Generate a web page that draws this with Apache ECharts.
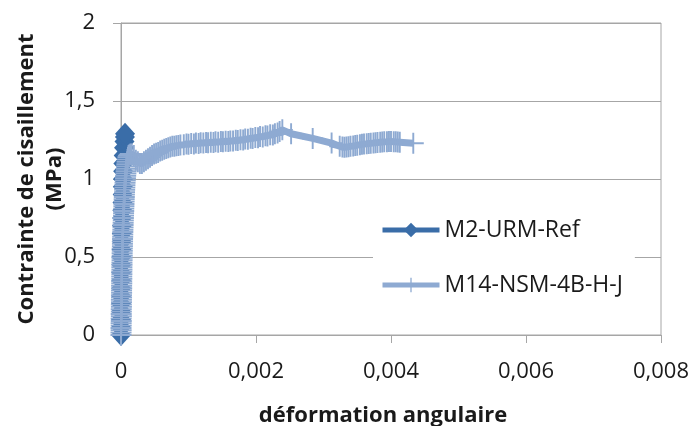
<!DOCTYPE html>
<html>
<head>
<meta charset="utf-8">
<script src="https://cdn.jsdelivr.net/npm/echarts@6/dist/echarts.min.js"></script>
<style>html,body{margin:0;padding:0;background:#fff;}#c{width:693px;height:426px;}</style>
</head>
<body>
<div id="c"></div>
<script>
var seriesNames = ['M2-URM-Ref', 'M14-NSM-4B-H-J'];
var xTitle = 'déformation angulaire';
var yTitle = 'Contrainte de cisaillement\n(MPa)';
var xTicks = [0, 0.002, 0.004, 0.006, 0.008];
var yTicks = [0, 0.5, 1, 1.5, 2];

var m2Data = [
  [0,0],[0,0.05],[0,0.1],[0.000002,0.15],[0,0.2],[0.000002,0.25],[0.000003,0.3],[0.000004,0.35],
  [0.000003,0.4],[0.000005,0.45],[0.000005,0.5],[0.000007,0.55],[0.00001,0.6],[0.000011,0.65],
  [0.000014,0.7],[0.000016,0.75],[0.00002,0.8],[0.000022,0.85],[0.000025,0.9],[0.000027,0.95],
  [0.00003,1.0],[0.000032,1.05],[0.000035,1.1],[0.00004,1.15],[0.000045,1.2],[0.000052,1.24],
  [0.000058,1.27],[0.00006,1.29]
];

var m14Data = [
  [0,0],[0,0.015],[0.000002,0.03],[0,0.045],[0.000003,0.06],[0.000002,0.075],[0.000004,0.09],[0.000002,0.105],
  [0.000005,0.12],[0.000003,0.135],[0.000005,0.15],[0.000004,0.165],[0.000006,0.18],[0.000005,0.195],
  [0.000007,0.21],[0.000006,0.225],[0.000008,0.24],[0.000007,0.255],[0.000009,0.27],[0.000008,0.285],
  [0.00001,0.3],[0.000009,0.315],[0.000011,0.33],[0.00001,0.345],[0.000012,0.36],[0.000011,0.375],
  [0.000013,0.39],[0.000012,0.405],[0.000014,0.42],[0.000013,0.435],[0.000015,0.45],[0.000014,0.465],
  [0.000016,0.48],[0.000016,0.495],[0.000018,0.51],[0.000017,0.525],[0.000019,0.54],[0.000019,0.555],
  [0.000021,0.57],[0.000021,0.585],[0.000023,0.6],[0.000023,0.615],[0.000025,0.63],[0.000026,0.645],
  [0.000027,0.66],[0.000028,0.675],[0.00003,0.69],[0.000031,0.705],[0.000032,0.72],[0.000034,0.735],
  [0.000035,0.75],[0.000037,0.765],[0.000038,0.78],[0.00004,0.795],[0.000041,0.81],[0.000043,0.825],
  [0.000044,0.84],[0.000046,0.855],[0.000047,0.87],[0.000049,0.885],[0.00005,0.9],[0.000052,0.915],
  [0.000054,0.93],[0.000056,0.945],[0.000058,0.96],[0.00006,0.975],[0.000063,0.99],[0.000066,1.005],
  [0.000069,1.02],[0.000072,1.035],[0.000075,1.05],[0.000078,1.065],[0.000082,1.08],[0.000086,1.095],
  [0.00009,1.11],[0.000096,1.125],[0.000103,1.14],[0.000112,1.15],[0.000125,1.155],[0.00014,1.16],
  [0.00016,1.16],
  [0.00019,1.15],[0.00022,1.12],[0.00025,1.11],[0.00028,1.10],[0.00031,1.10],[0.00034,1.11],
  [0.00037,1.12],[0.0004,1.13],[0.00043,1.14],[0.00046,1.15],[0.00049,1.16],[0.00052,1.165],
  [0.00055,1.17],[0.00058,1.18],[0.00061,1.185],[0.00064,1.19],[0.00067,1.195],[0.0007,1.2],
  [0.00073,1.205],[0.00076,1.21],[0.00079,1.21],[0.00082,1.213],[0.00085,1.215],[0.00088,1.218],
  [0.00093,1.220],[0.00097,1.225],[0.00100,1.222],[0.00104,1.228],[0.00108,1.225],[0.00111,1.230],
  [0.00115,1.228],[0.00118,1.232],[0.00122,1.230],[0.00126,1.234],[0.00129,1.232],[0.00133,1.236],
  [0.00137,1.234],[0.00140,1.238],[0.00144,1.236],[0.00148,1.240],[0.00151,1.238],[0.00155,1.242],
  [0.00159,1.240],[0.00162,1.244],[0.00166,1.243],[0.00170,1.248],[0.00173,1.246],[0.00177,1.252],
  [0.00181,1.250],[0.00184,1.256],[0.00188,1.255],[0.00192,1.262],[0.00195,1.260],[0.00199,1.266],
  [0.00203,1.265],[0.00206,1.272],[0.00210,1.270],[0.00214,1.278],[0.00217,1.276],[0.00221,1.284],
  [0.00225,1.282],[0.00228,1.290],[0.00232,1.295],[0.00235,1.305],[0.00239,1.315],
  [0.00252,1.29],[0.00284,1.26],[0.00312,1.23],[0.00324,1.21],
  [0.00328,1.205],[0.00331,1.203],[0.00334,1.205],[0.00337,1.207],[0.0034,1.21],[0.00344,1.212],
  [0.00347,1.214],[0.0035,1.217],[0.00354,1.219],[0.00357,1.222],[0.0036,1.224],[0.00364,1.226],
  [0.00367,1.228],[0.0037,1.229],[0.00374,1.231],[0.00377,1.233],[0.0038,1.234],[0.00384,1.236],
  [0.00387,1.237],[0.0039,1.238],[0.00394,1.239],[0.00397,1.24],[0.004,1.24],[0.00404,1.239],
  [0.00407,1.238],[0.0041,1.237],[0.00413,1.235],[0.00433,1.229]
];

var fmt = function (v) { return String(+v.toFixed(4)).replace('.', ','); };
var font = '"Open Sans", "Noto Sans", sans-serif';
var gridCol = '#a6a6a6';
var plusPath = 'path://M10,0H12V10H22V12H12V22H10V12H0V10H10Z';

var chart = echarts.init(document.getElementById('c'), null, {renderer: 'canvas'});
chart.setOption({
  animation: false,
  backgroundColor: '#fff',
  textStyle: {fontFamily: font, color: '#1a1a1a'},
  grid: {left: 121, right: 32, top: 23, bottom: 91, show: true, borderColor: gridCol, borderWidth: 1,
         containLabel: false, outerBoundsMode: 'none'},
  legend: {
    orient: 'vertical',
    left: 373, top: 206,
    padding: [10, 12, 10, 7],
    backgroundColor: '#fff',
    itemWidth: 57, itemHeight: 18, itemGap: 27,
    lineStyle: {width: 5},
    textStyle: {fontSize: 23, color: '#1a1a1a', fontFamily: font, lineHeight: 28},
    data: seriesNames
  },
  xAxis: {
    type: 'value', min: xTicks[0], max: xTicks[xTicks.length - 1], interval: xTicks[1] - xTicks[0],
    name: xTitle, nameLocation: 'middle', nameGap: 70, nameMoveOverlap: false,
    nameTextStyle: {fontSize: 22, fontWeight: 'bold', color: '#1a1a1a', fontFamily: font, padding: [0, 16, 0, 0]},
    axisLine: {show: true, lineStyle: {color: gridCol, width: 1}},
    axisTick: {show: true, length: 8, lineStyle: {color: gridCol}},
    axisLabel: {fontSize: 22, color: '#1a1a1a', margin: 26, formatter: fmt, fontFamily: font},
    splitLine: {show: false}
  },
  yAxis: {
    type: 'value', min: yTicks[0], max: yTicks[yTicks.length - 1], interval: yTicks[1] - yTicks[0],
    name: yTitle, nameLocation: 'middle', nameGap: 52, nameRotate: 90, nameMoveOverlap: false,
    nameTextStyle: {fontSize: 22, fontWeight: 'bold', color: '#1a1a1a', fontFamily: font, lineHeight: 28, align: 'center'},
    axisLine: {show: true, lineStyle: {color: gridCol, width: 1}},
    axisTick: {show: true, length: 8, lineStyle: {color: gridCol}},
    axisLabel: {fontSize: 22, color: '#1a1a1a', margin: 26, formatter: fmt, fontFamily: font},
    splitLine: {show: true, lineStyle: {color: gridCol, width: 1}}
  },
  series: [
    {
      name: seriesNames[0], type: 'line', data: m2Data,
      symbol: 'diamond', symbolSize: [20, 22], showAllSymbol: true, clip: false,
      lineStyle: {color: '#3a6da8', width: 7},
      itemStyle: {color: '#3a6da8'}
    },
    {
      name: seriesNames[1], type: 'line', data: m14Data,
      symbol: plusPath, symbolSize: 21, showAllSymbol: true, clip: false,
      lineStyle: {color: '#8eaad2', width: 7},
      itemStyle: {color: '#8eaad2'}
    }
  ]
});
</script>
</body>
</html>
